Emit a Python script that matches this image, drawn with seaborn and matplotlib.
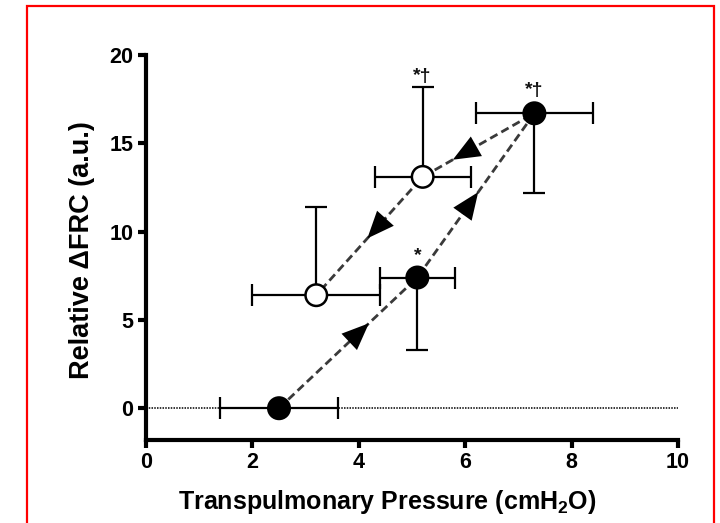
import numpy as np
import pandas as pd
import matplotlib
matplotlib.use("Agg")
import matplotlib.pyplot as plt
from matplotlib.patches import Rectangle
import seaborn as sns

# Data (path order: inflation up, then deflation down)
pressure = [2.5, 5.1, 7.3, 5.2, 3.2]
dfrc = [0.0, 7.4, 16.7, 13.1, 6.4]
phase = ["inflation", "inflation", "inflation", "deflation", "deflation"]
pressure_err = [1.1, 0.7, 1.1, 0.9, 1.2]
dfrc_err_low = [0.0, 4.1, 4.5, 0.0, 0.0]
dfrc_err_high = [0.0, 0.0, 0.0, 5.1, 5.0]
sig_labels = ["", "*", "*\u2020", "*\u2020", ""]
arrow_frac = [0.65, 0.52, 0.73, 0.52]

df = pd.DataFrame({"pressure": pressure, "dfrc": dfrc, "phase": phase})

sns.set_theme(style="ticks")
plt.rcParams["font.family"] = ["Liberation Sans", "DejaVu Sans"]
plt.rcParams["font.weight"] = "bold"
plt.rcParams["mathtext.fontset"] = "custom"
plt.rcParams["mathtext.bf"] = "Liberation Sans:bold"
plt.rcParams["mathtext.rm"] = "Liberation Sans:bold"

fig = plt.figure(figsize=(7.2, 5.23), dpi=100)
ax = fig.add_axes([0.2028, 0.1587, 0.7389, 0.7361])

# zero reference line
ax.axhline(0, ls=(0, (1, 0.8)), color="black", lw=1.1, zorder=1)

# dashed path
sns.lineplot(data=df, x="pressure", y="dfrc", sort=False, estimator=None,
             color="#3a3a3a", lw=2, linestyle=(0, (3, 1.6)), ax=ax, zorder=2)

# arrowheads along the path
for i, f in enumerate(arrow_frac):
    x0, y0 = pressure[i], dfrc[i]
    x1, y1 = pressure[i + 1], dfrc[i + 1]
    tip = (x0 + f * (x1 - x0), y0 + f * (y1 - y0))
    back = (tip[0] - 0.01 * (x1 - x0), tip[1] - 0.01 * (y1 - y0))
    ax.annotate("", xy=tip, xytext=back,
                arrowprops=dict(arrowstyle="-|>,head_length=0.65,head_width=0.27",
                                mutation_scale=30, color="black", lw=0,
                                shrinkA=0, shrinkB=0), zorder=3)

# error bars
ax.errorbar(pressure, dfrc, xerr=pressure_err, yerr=[dfrc_err_low, dfrc_err_high],
            fmt="none", ecolor="black", elinewidth=1.6, capsize=8, capthick=1.6, zorder=3)

# points
sns.scatterplot(data=df, x="pressure", y="dfrc", hue="phase",
                palette={"inflation": "black", "deflation": "white"},
                s=240, edgecolor="black", linewidth=1.8, legend=False, ax=ax, zorder=4)

# significance marks
for x, y, hi, lo, lab in zip(pressure, dfrc, dfrc_err_high, dfrc_err_low, sig_labels):
    if not lab:
        continue
    top = y + hi if hi > 0 else y
    ax.annotate(lab, (x, top), xytext=(0, 1 if hi > 0 else 10), textcoords="offset points",
                ha="center", va="bottom", fontsize=14, fontweight="bold", color="#111111")

ax.set_xlim(0, 10)
ax.set_ylim(-1.8, 20)
ax.set_xticks([0, 2, 4, 6, 8, 10])
ax.set_yticks([0, 5, 10, 15, 20])
sns.despine(ax=ax)
for s in ("left", "bottom"):
    ax.spines[s].set_linewidth(3)
    ax.spines[s].set_color("black")
ax.tick_params(axis="both", width=3, length=6, color="black", labelsize=15.5,
               labelcolor="black", pad=3)
for lab in ax.get_xticklabels() + ax.get_yticklabels():
    lab.set_fontweight("bold")

ax.set_xlabel(r"Transpulmonary Pressure (cmH$_\mathbf{2}$O)", fontsize=18,
              fontweight="bold", color="black")
ax.xaxis.set_label_coords(0.454, -0.125)
ax.set_ylabel("Relative \u0394FRC (a.u.)", fontsize=19.5, fontweight="bold",
              color="black")
ax.yaxis.set_label_coords(-0.096, 0.4935)

# red frame around the figure
fig.add_artist(Rectangle((27 / 720, -0.05), (714 - 27) / 720, 1.05 - 6 / 523,
                         transform=fig.transFigure, fill=False, ec="red", lw=1.6))

fig.savefig("out.png", dpi=100)
